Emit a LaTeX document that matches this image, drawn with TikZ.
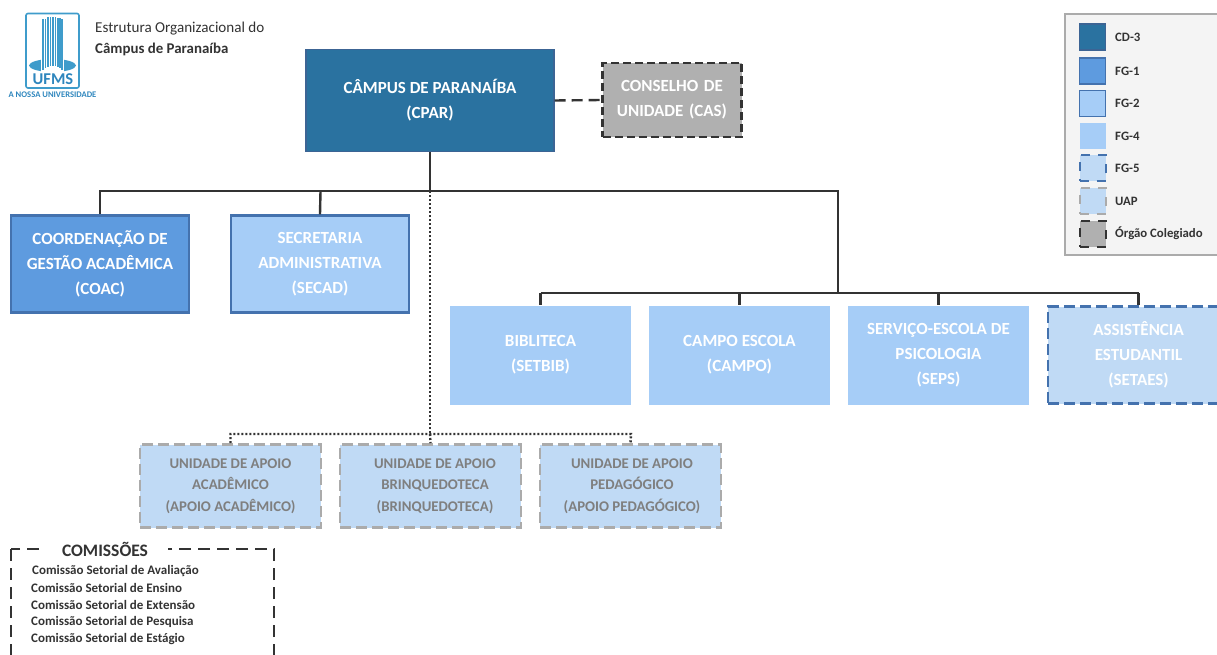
\documentclass[tikz,border=0pt]{standalone}
\usepackage{fontspec}
\setmainfont{Carlito}
\definecolor{cdfill}{HTML}{2A72A0}
\definecolor{cdline}{HTML}{3C6494}
\definecolor{fgone}{HTML}{5E9BDF}
\definecolor{fgline}{HTML}{4472AE}
\definecolor{fgfour}{HTML}{A6CDF7}
\definecolor{fgfive}{HTML}{C0DAF5}
\definecolor{greyfill}{HTML}{B0B0B0}
\definecolor{uapline}{HTML}{ABABAB}
\definecolor{uaptext}{HTML}{7F7F7F}
\definecolor{darkline}{HTML}{333333}
\definecolor{logoblue}{HTML}{3F9CCB}
\definecolor{logodark}{HTML}{2E86BD}
\definecolor{legendbg}{HTML}{F4F4F4}
\tikzset{
  x=1pt,y=-1pt,
  orgbox/.style={minimum width=#1,align=center,inner sep=0pt,font=\bfseries\fontsize{17}{25}\selectfont},
  cdbox/.style={orgbox=248pt,minimum height=102pt,fill=cdfill,draw=cdline,line width=1.3pt,text=white},
  colbox/.style={orgbox=139pt,minimum height=74pt,fill=greyfill,draw=darkline,line width=2.6pt,dash pattern=on 8pt off 4pt,text=white,text width=135pt},
  fgonebox/.style={orgbox=178pt,minimum height=97pt,fill=fgone,draw=fgline,line width=2.4pt,text=white},
  fgtwobox/.style={orgbox=178pt,minimum height=97pt,fill=fgfour,draw=fgline,line width=2.4pt,text=white},
  fgfourbox/.style={orgbox=181pt,minimum height=99pt,fill=fgfour,text=white},
  fgfivebox/.style={orgbox=181pt,minimum height=97pt,fill=fgfive,draw=fgline,line width=2.6pt,dash pattern=on 11pt off 5pt,text=white},
  uapbox/.style={minimum width=181pt,minimum height=83pt,align=center,inner sep=0pt,fill=fgfive,draw=uapline,line width=2.6pt,dash pattern=on 11pt off 5pt,text=uaptext,font=\bfseries\fontsize{14.8}{21.5}\selectfont},
  conn/.style={draw=darkline,line width=2.4pt},
  dotconn/.style={draw=darkline,line width=2.4pt,dash pattern=on 2pt off 2pt},
  dashconn/.style={draw=darkline,line width=2.4pt,dash pattern=on 11pt off 6pt},
  swatch/.style={minimum width=26pt,minimum height=26pt,inner sep=0pt},
  legtext/.style={anchor=west,inner sep=0pt,text=darkline,font=\bfseries\fontsize{12.8}{14}\selectfont},
  comtext/.style={anchor=west,inner sep=0pt,text=darkline,font=\bfseries\fontsize{13}{14}\selectfont},
  logostrip/.style={fill=logoblue},
}
\begin{document}
\begin{tikzpicture}
\useasboundingbox (0,0) rectangle (1217,655);
\clip (0,0) rectangle (1217,655);
% logo
\draw[logoblue,line width=1.6pt,rounded corners=2pt,fill=white] (26,13.5) rectangle (79,88);
\fill[logoblue] (52.5,65.5) ellipse (23.5 and 6.5);
\fill[white] (41,58) rectangle (64,72.5);
\foreach \xa/\xb/\ya/\yb in {42/43.5/19/70, 44.5/46/19/68, 47/48.5/17/67, 49.5/51/17/66, 52/53.5/17/66, 54.5/56/17/66, 57/58.5/18/67, 59/60.5/18/68, 61/62.5/19/70}{
  \fill[logostrip] (\xa,\ya) rectangle (\xb,\yb);
}
\node[inner sep=0pt,text=logodark,font=\bfseries\fontsize{16.5}{18}\selectfont] (logoname) at (53,79.5) {UFMS};
\node[inner sep=0pt,text=logodark,font=\bfseries\fontsize{8.6}{9}\selectfont] (logotag) at (52.5,95) {A NOSSA UNIVERSIDADE};
\node[anchor=west,inner sep=0pt,text=darkline,font=\fontsize{15.1}{15}\selectfont] (title1) at (95,29) {Estrutura Organizacional do};
\node[anchor=west,inner sep=0pt,text=darkline,font=\bfseries\fontsize{14.9}{15}\selectfont] (title2) at (95,49) {Câmpus de Paranaíba};
% junction points
\coordinate (busR) at (838,191);
\coordinate (busM) at (430,191);
\coordinate (busL) at (100,191);
\coordinate (busS) at (320.5,191);
\coordinate (sub) at (838,293);
\coordinate (subA) at (540.5,293);
\coordinate (subB) at (739.5,293);
\coordinate (subC) at (938.5,293);
\coordinate (subD) at (1138.5,293);
\coordinate (dotM) at (430,434);
\coordinate (dotA) at (230.5,434);
\coordinate (dotC) at (631,434);
% nodes
\node[cdbox] (cpar) at (430,100.5) {CÂMPUS DE PARANAÍBA\\(CPAR)};
\node[colbox] (cas) at (672,100) {CONSELHO DE\\UNIDADE (CAS)};
\node[fgonebox] (coac) at (100,264) {COORDENAÇÃO DE\\GESTÃO ACADÊMICA\\(COAC)};
\node[fgtwobox] (secad) at (320,264) {SECRETARIA\\ADMINISTRATIVA\\(SECAD)};
\node[fgfourbox] (setbib) at (540.5,355) {BIBLITECA\\(SETBIB)};
\node[fgfourbox] (campo) at (739.5,355) {CAMPO ESCOLA\\(CAMPO)};
\node[fgfourbox] (seps) at (938.5,355) {SERVIÇO-ESCOLA DE\\PSICOLOGIA\\(SEPS)};
\node[fgfivebox] (setaes) at (1138.5,355) {ASSISTÊNCIA\\ESTUDANTIL\\(SETAES)};
\node[uapbox] (uap1) at (230.5,486) {UNIDADE DE APOIO\\ACADÊMICO\\(APOIO ACADÊMICO)};
\node[uapbox] (uap2) at (430.5,486) {\hspace*{9pt}UNIDADE DE APOIO\\\hspace*{9pt}BRINQUEDOTECA\\\hspace*{9pt}(BRINQUEDOTECA)};
\node[uapbox] (uap3) at (630.5,486) {\hspace*{3pt}UNIDADE DE APOIO\\\hspace*{3pt}PEDAGÓGICO\\\hspace*{3pt}(APOIO PEDAGÓGICO)};
% connectors
\draw[dotconn] (busM) -- (dotM);
\draw[dotconn] (uap1.north) -- (dotA) -- (dotC) -- (uap3.north);
\draw[dotconn] (dotM) -- (uap2.north);
\draw[conn] (cpar.south) -- (busM);
\draw[conn] (coac.north) -- (busL) -- (busR) -- (sub);
\draw[conn] (busS) -- (secad.north);
\draw[conn] (subA) -- (subD);
\draw[conn] (subA) -- (setbib.north);
\draw[conn] (subB) -- (campo.north);
\draw[conn] (subC) -- (seps.north);
\draw[conn] (subD) -- (setaes.north);
\draw[dashconn] (cpar.east) -- (cas.west);
% legend
\draw[uapline,line width=2.4pt,fill=legendbg] (1065,14) rectangle (1220,255);
\node[swatch,fill=cdfill,draw=cdline,line width=1.3pt] (l1) at (1092.5,37) {};
\node[legtext] (t1) at (1115,37) {CD-3};
\node[swatch,fill=fgone,draw=fgline,line width=1.8pt] (l2) at (1092.5,71) {};
\node[legtext] (t2) at (1115,71) {FG-1};
\node[swatch,fill=fgfour,draw=fgline,line width=1.8pt] (l3) at (1092.5,103.5) {};
\node[legtext] (t3) at (1115,103.5) {FG-2};
\node[swatch,fill=fgfour] (l4) at (1092.5,136) {};
\node[legtext] (t4) at (1115,136) {FG-4};
\node[swatch,fill=fgfive,draw=fgline,line width=2pt,dash pattern=on 9pt off 8pt] (l5) at (1092.5,168.5) {};
\node[legtext] (t5) at (1115,168.5) {FG-5};
\node[swatch,fill=fgfive,draw=uapline,line width=2pt,dash pattern=on 9pt off 8pt] (l6) at (1092.5,201) {};
\node[legtext] (t6) at (1115,201) {UAP};
\node[swatch,fill=greyfill,draw=darkline,line width=2pt,dash pattern=on 9pt off 8pt] (l7) at (1092.5,233.5) {};
\node[legtext] (t7) at (1115,233.5) {Órgão Colegiado};
% commissions
\draw[darkline,line width=2.2pt,dash pattern=on 12pt off 7pt] (11,549) rectangle (274,680);
\fill[white] (41,541) rectangle (168,558);
\node[inner sep=0pt,text=darkline,font=\bfseries\fontsize{17.5}{18}\selectfont] (com) at (105,549.5) {COMISSÕES};
\node[comtext] (c1) at (32,571) {Comissão Setorial de Avaliação};
\node[comtext] (c2) at (31,588) {Comissão Setorial de Ensino};
\node[comtext] (c3) at (31,605) {Comissão Setorial de Extensão};
\node[comtext] (c4) at (31,622) {Comissão Setorial de Pesquisa};
\node[comtext] (c5) at (31,639) {Comissão Setorial de Estágio};
\end{tikzpicture}
\end{document}
